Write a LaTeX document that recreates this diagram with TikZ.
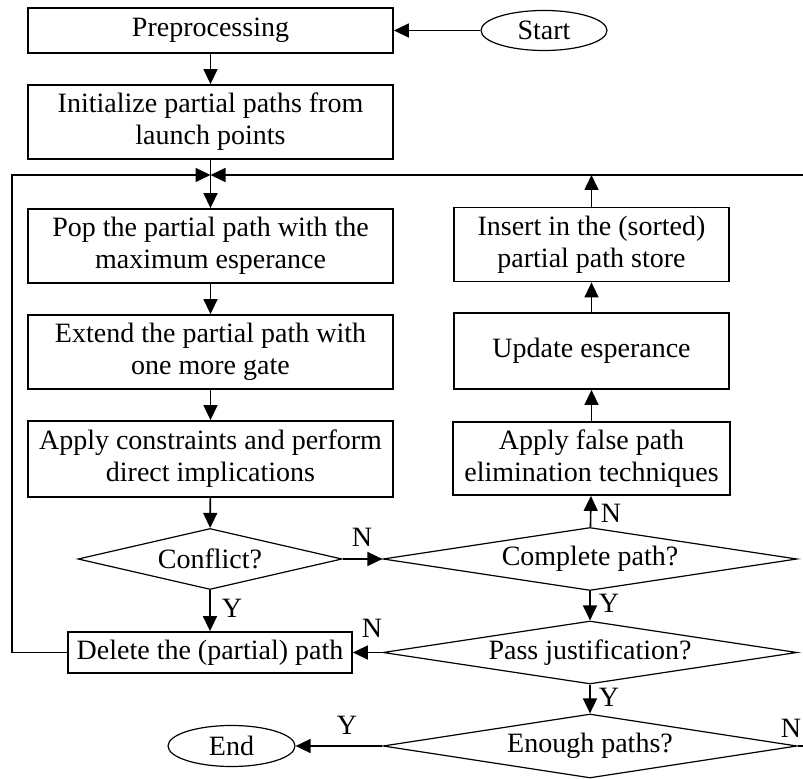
\documentclass[tikz,border=0pt]{standalone}
\usepackage{fontspec}
\setmainfont{Liberation Serif}
\usetikzlibrary{shapes.geometric,arrows.meta}

\tikzset{
  every node/.style={font=\fontsize{14pt}{16pt}\selectfont},
  procbox/.style={draw, line width=0.9pt, align=center, inner sep=1pt,
    minimum width=182.5pt, minimum height=37pt},
  termnode/.style={draw, ellipse, line width=0.6pt, inner sep=0pt,
    minimum width=63pt, minimum height=20pt},
  decision/.style={draw, diamond, aspect=7, line width=0.6pt, inner sep=0pt,
    minimum width=207pt, minimum height=31.5pt},
  flow/.style={line width=0.8pt, -{Triangle[length=7.5pt,width=7pt]}},
  link/.style={line width=0.8pt},
  answer/.style={inner sep=0pt}
}

\begin{document}
\begin{tikzpicture}[x=0.5pt,y=-0.5pt]

\useasboundingbox (0,0) rectangle (803,779);

% -------------------------------------------------
% Left column
% -------------------------------------------------
\node[procbox, minimum height=22.5pt] (pre) at (210.5,30.5) {Preprocessing};
\node[termnode] (start) at (544,30.5) {Start};
\node[procbox] (init) at (210.5,122) {Initialize partial paths from\\launch points};
\node[procbox] (pop) at (210.5,246) {Pop the partial path with the\\maximum esperance};
\node[procbox] (ext) at (210.5,352) {Extend the partial path with\\one more gate};
\node[procbox, minimum height=38pt] (cons) at (210.5,459) {Apply constraints and perform\\direct implications};
\node[decision, aspect=4.3, minimum width=132pt, minimum height=30.5pt] (conf) at (210,559) {Conflict?};
\node[procbox, minimum width=142pt, minimum height=20.5pt] (del) at (210,652.5) {Delete the (partial) path};
\node[termnode, minimum width=63.5pt, minimum height=20.5pt] (end) at (231.5,746) {End};

% -------------------------------------------------
% Right column
% -------------------------------------------------
\node[procbox, minimum width=137.5pt] (ins) at (591.5,244.5) {Insert in the (sorted)\\partial path store};
\node[procbox, minimum width=137.5pt, minimum height=38pt] (upd) at (591.5,351) {Update esperance};
\node[procbox, minimum width=138.5pt, minimum height=36.5pt] (fal) at (591.5,458.5) {Apply false path\\elimination techniques};
\node[decision] (comp) at (590,559) {Complete path?};
\node[decision] (pass) at (590,652.5) {Pass justification?};
\node[decision, minimum height=32pt] (enough) at (590,746) {Enough paths?};

% -------------------------------------------------
% Loop corners
% -------------------------------------------------
\coordinate (lt) at (12,175);
\coordinate (lb) at (12,652.5);
\coordinate (mid) at (210.5,175);
\coordinate (rt) at (803,175);
\coordinate (nout) at (803,746);

% -------------------------------------------------
% Connectors
% -------------------------------------------------
\draw[flow] (start.west) -- (pre.east);
\draw[flow] (pre) -- (init);
\draw[flow] (init) -- (pop);
\draw[flow] (pop) -- (ext);
\draw[flow] (ext) -- (cons);
\draw[flow] (cons) -- (conf);
\draw[flow] (conf) -- (del);
\draw[flow] (conf.east) -- (comp.west);
\draw[flow] (comp) -- (fal);
\draw[flow] (fal) -- (upd);
\draw[flow] (upd) -- (ins);
\draw[flow] (ins.north) -- (ins.north |- rt);
\draw[flow] (comp) -- (pass);
\draw[flow] (pass.west) -- (del.east);
\draw[flow] (pass) -- (enough);
\draw[flow] (enough.west) -- (end.east);
\draw[link] (enough.east) -- (nout);
\draw[flow] (del.west) -- (lb) -- (lt) -- (mid);
\draw[flow] (rt) -- (mid);

% -------------------------------------------------
% Answers
% -------------------------------------------------
\node[answer] (confn) at (362,537) {N};
\node[answer] (confy) at (232,608) {Y};
\node[answer] (passn) at (372,628) {N};
\node[answer] (enoughy) at (347,725) {Y};
\node[answer] (compn) at (611,513) {N};
\node[answer] (compy) at (609,603) {Y};
\node[answer] (passy) at (609,697) {Y};
\node[answer] (enoughn) at (791,728) {N};

\end{tikzpicture}
\end{document}
